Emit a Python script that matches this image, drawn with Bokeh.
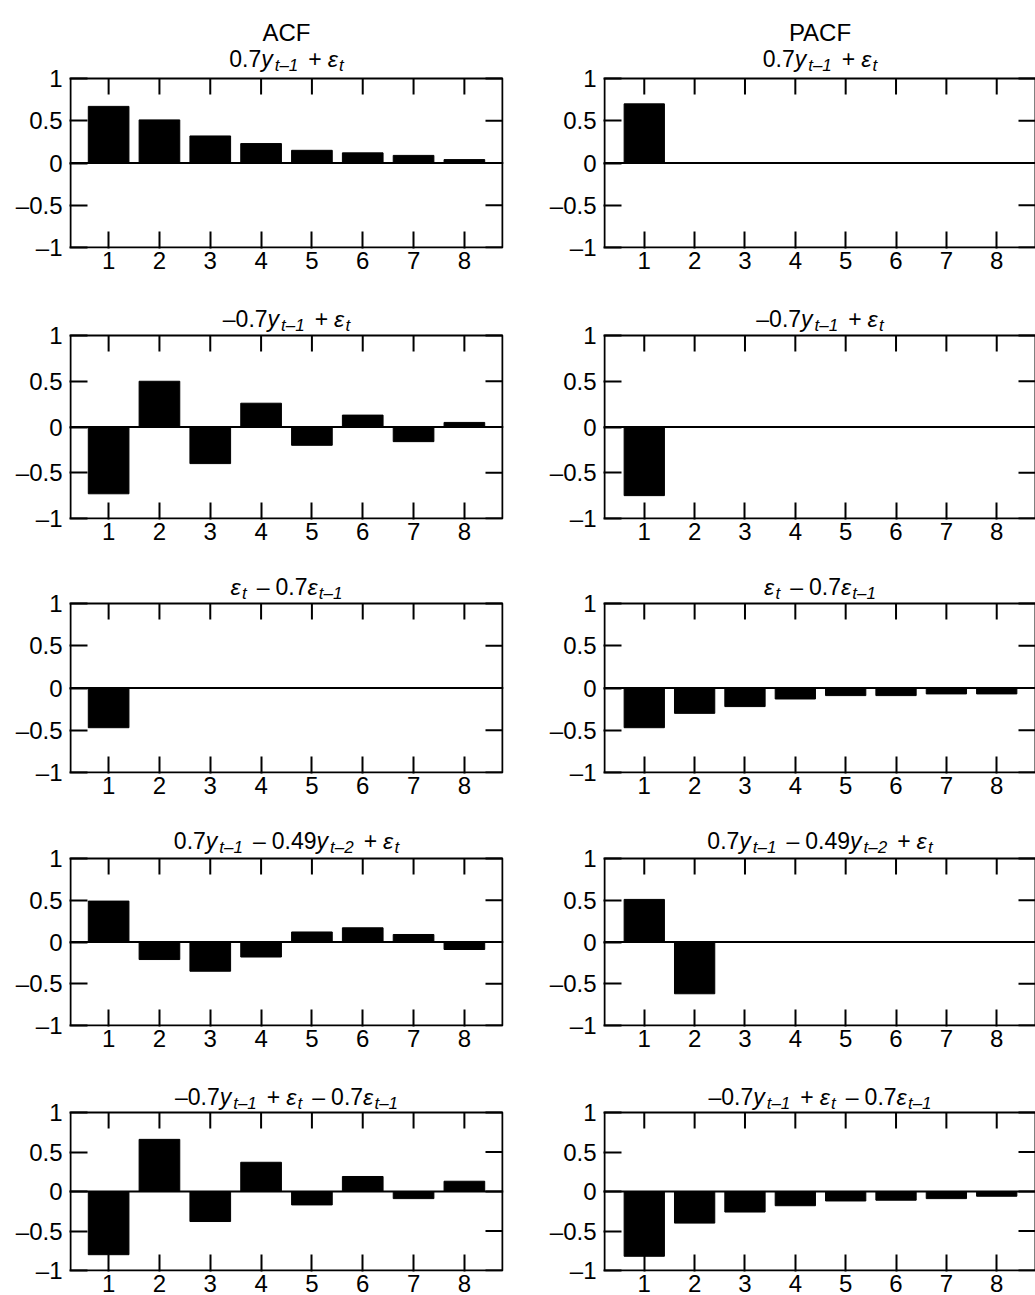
import math
from bokeh.plotting import figure
from bokeh.models import Range1d, FixedTicker, Span, ColumnDataSource
from bokeh.layouts import column, row
from bokeh.core.properties import value
from bokeh.embed import file_html
from bokeh.resources import INLINE

# ---------------- data ----------------
lags = [1, 2, 3, 4, 5, 6, 7, 8]
ytick_vals = [-1, -0.5, 0, 0.5, 1]
ytick_labels = ["–1", "–0.5", "0", "0.5", "1"]
column_headers = ["ACF", "PACF"]

acf_ar1_pos = [0.67, 0.51, 0.32, 0.23, 0.15, 0.12, 0.09, 0.04]
pacf_ar1_pos = [0.70, 0, 0, 0, 0, 0, 0, 0]
acf_ar1_neg = [-0.73, 0.50, -0.40, 0.26, -0.20, 0.13, -0.16, 0.05]
pacf_ar1_neg = [-0.75, 0, 0, 0, 0, 0, 0, 0]
acf_ma1 = [-0.47, 0, 0, 0, 0, 0, 0, 0]
pacf_ma1 = [-0.47, -0.30, -0.22, -0.13, -0.09, -0.09, -0.07, -0.07]
acf_ar2 = [0.49, -0.21, -0.35, -0.18, 0.12, 0.17, 0.09, -0.09]
pacf_ar2 = [0.51, -0.62, 0, 0, 0, 0, 0, 0]
acf_arma = [-0.80, 0.66, -0.38, 0.37, -0.17, 0.19, -0.09, 0.13]
pacf_arma = [-0.82, -0.40, -0.26, -0.18, -0.12, -0.11, -0.09, -0.06]

# model formulas as (kind, text) tokens: n=normal, i=italic, s=subscript, o=operator
title_tokens = [
    [("n", "0.7"), ("i", "y"), ("s", "t–1"), ("o", "+"), ("i", "ε"), ("s", "t")],
    [("n", "–0.7"), ("i", "y"), ("s", "t–1"), ("o", "+"), ("i", "ε"), ("s", "t")],
    [("i", "ε"), ("s", "t"), ("o", "–"), ("n", "0.7"), ("i", "ε"), ("s", "t–1")],
    [("n", "0.7"), ("i", "y"), ("s", "t–1"), ("o", "–"), ("n", "0.49"), ("i", "y"),
     ("s", "t–2"), ("o", "+"), ("i", "ε"), ("s", "t")],
    [("n", "–0.7"), ("i", "y"), ("s", "t–1"), ("o", "+"), ("i", "ε"), ("s", "t"),
     ("o", "–"), ("n", "0.7"), ("i", "ε"), ("s", "t–1")],
]
acf_rows = [acf_ar1_pos, acf_ar1_neg, acf_ma1, acf_ar2, acf_arma]
pacf_rows = [pacf_ar1_pos, pacf_ar1_neg, pacf_ma1, pacf_ar2, pacf_arma]

# ---------------- layout / style ----------------
FONT = "Liberation Sans"
TICK_FS = 24
MAIN_FS = 23
SUB_FS = 17
SUB_DROP = 7
M = 1                                # frame margin around the drawn box (px)
row_start = [0, 285, 560, 815, 1066]
row_end = [285, 560, 815, 1066, 1295]
box_top = [78, 335, 603, 858, 1112]
box_bot = [247, 518, 772, 1025, 1270]
title_dy = [20, 17, 17, 18, 16]      # formula baseline above box top (px)
header_dy = 46                       # "ACF"/"PACF" baseline above box top (px)
# width, box left/right in px within the figure, box x-range in data units
col_geom = [dict(width=540, left=70, right=502, xr=(0.25, 8.75), mr=M),
            dict(width=495, left=64, right=495, xr=(0.21, 8.77), mr=0)]

CW = {"0": .556, "1": .556, "2": .556, "3": .556, "4": .556, "5": .556, "6": .556,
      "7": .556, "8": .556, "9": .556, ".": .278, " ": .278, "+": .584, "–": .556,
      "y": .5, "t": .278, "ε": .45}


def tw(text, fs):
    return sum(CW.get(c, .556) for c in text) * fs


def token_layout(tokens):
    out = []
    x = 0.0
    for kind, text in tokens:
        if kind == "o":
            x += 10
            out.append((x, text, MAIN_FS, "normal", 0))
            x += tw(text, MAIN_FS) + 6
        elif kind == "s":
            out.append((x, text, SUB_FS, "italic", -SUB_DROP))
            x += tw(text, SUB_FS)
        elif kind == "i":
            out.append((x, text, MAIN_FS, "italic", 0))
            x += tw(text, MAIN_FS) + (2 if text == "y" else 1)
        else:
            out.append((x, text, MAIN_FS, "normal", 0))
            x += tw(text, MAIN_FS)
    return out, x


def make_panel(vals, ci, ri):
    cg = col_geom[ci]
    x0, x1 = cg["xr"]
    ppu_x = (cg["right"] - cg["left"]) / (x1 - x0)
    ppu_y = (box_bot[ri] - box_top[ri]) / 2.0
    head = box_top[ri] - row_start[ri]
    bb = row_end[ri] - box_bot[ri] - M
    p = figure(width=cg["width"], height=row_end[ri] - row_start[ri],
               x_range=Range1d(x0 - M / ppu_x, x1 + cg["mr"] / ppu_x),
               y_range=Range1d(-1 - M / ppu_y, 1 + head / ppu_y),
               output_backend="svg", toolbar_location=None, tools="",
               min_border_left=cg["left"] - M,
               min_border_right=cg["width"] - cg["right"] - cg["mr"],
               min_border_top=0, min_border_bottom=bb)
    p.xgrid.visible = False
    p.ygrid.visible = False
    p.outline_line_color = None
    p.background_fill_color = "white"
    p.border_fill_color = "white"

    p.xaxis.ticker = FixedTicker(ticks=lags)
    p.xaxis.major_tick_in = 16 + M
    p.xaxis.major_label_standoff = 4 - M
    p.yaxis.ticker = FixedTicker(ticks=ytick_vals)
    p.yaxis.major_tick_in = 17 + M
    p.yaxis.major_label_standoff = 8 - M
    p.yaxis.major_label_overrides = {v: s for v, s in zip(ytick_vals, ytick_labels)}
    for ax in p.axis:
        ax.major_tick_out = 0
        ax.minor_tick_line_color = None
        ax.axis_line_color = None
        ax.major_tick_line_color = "black"
        ax.major_tick_line_width = 2
        ax.major_label_text_font = FONT
        ax.major_label_text_font_size = f"{TICK_FS}px"
        ax.major_label_text_color = "black"

    ytop, ybot = ytick_vals[-1], ytick_vals[0]
    # bars and zero line
    p.vbar(x=lags, top=vals, bottom=0, width=0.8, fill_color="black",
           line_color="black", line_width=1)
    p.add_layout(Span(location=0, dimension="width", line_color="black", line_width=2))
    # mirrored inward ticks on top and right edges
    p.ray(x=lags, y=[ytop] * len(lags), length=16, length_units="screen",
          angle=-math.pi / 2, line_color="black", line_width=2)
    p.ray(x=[x1] * len(ytick_vals), y=ytick_vals, length=17, length_units="screen",
          angle=math.pi, line_color="black", line_width=2)
    # plot box
    p.quad(left=[x0], right=[x1], bottom=[ybot], top=[ytop], fill_color=None,
           line_color="black", line_width=2)

    # formula title
    xc = (x0 + x1) / 2
    segs, total = token_layout(title_tokens[ri])
    src = ColumnDataSource(dict(
        x=[xc + (dx - total / 2) / ppu_x for dx, _, _, _, _ in segs],
        y=[ytop + (title_dy[ri] + dy) / ppu_y for _, _, _, _, dy in segs],
        text=[t for _, t, _, _, _ in segs],
        size=[f"{fs}px" for _, _, fs, _, _ in segs],
        style=[st for _, _, _, st, _ in segs]))
    p.text(x="x", y="y", text="text", source=src, text_font=value(FONT),
           text_font_size="size", text_font_style="style", text_color="black",
           text_align="left", text_baseline="alphabetic")
    if ri == 0:
        p.text(x=[xc], y=[ytop + header_dy / ppu_y], text=[column_headers[ci]],
               text_font=value(FONT), text_font_size=value("24px"), text_color="black",
               text_align="center", text_baseline="alphabetic")
    return p


rows = [row(make_panel(acf_rows[ri], 0, ri), make_panel(pacf_rows[ri], 1, ri))
        for ri in range(5)]
layout = column(*rows)

open("out.html", "w").write(file_html(layout, INLINE))
